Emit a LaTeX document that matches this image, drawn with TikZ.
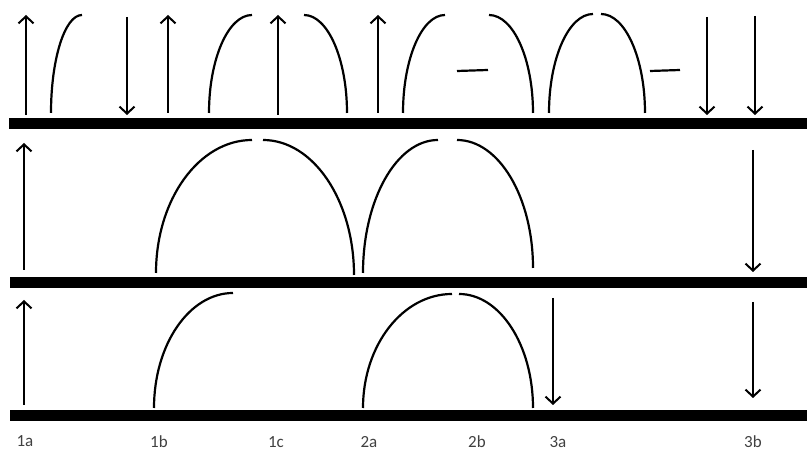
\documentclass[tikz,border=0pt]{standalone}
\usepackage{fontspec}
\setmainfont{Carlito}
\usetikzlibrary{arrows.meta}
\tikzset{ARROW/.style={line width=2.2pt, -{Straight Barb[length=7pt,width=15pt,line width=2pt]}}}
\tikzset{ARC/.style={line width=2.2pt}}
\tikzset{BAR/.style={line width=11pt}}
\tikzset{LABEL/.style={anchor=base, inner sep=0pt, text=black!75, font=\fontsize{17}{19}\selectfont}}

\begin{document}
\begin{tikzpicture}[x=1pt, y=1pt]
    \useasboundingbox (0,0) rectangle (807,452);

    % the three bars
    \draw[BAR] (9,328) -- (807,328);
    \draw[BAR] (10,169) -- (807,169);
    \draw[BAR] (10,36.5) -- (807,36.5);

    % top row
    \draw[ARROW] (26,337) -- (26,437);
    \draw[ARC] (51,339) arc[start angle=180, end angle=90, x radius=31, y radius=98];
    \draw[ARROW] (127,435) -- (127,337);
    \draw[ARROW] (168,339) -- (168,437);
    \draw[ARC] (209,339) arc[start angle=180, end angle=90, x radius=43, y radius=98];
    \draw[ARROW] (278,337) -- (278,437);
    \draw[ARC] (304,437) arc[start angle=90, end angle=0, x radius=43, y radius=98];
    \draw[ARROW] (378,339) -- (378,437);
    \draw[ARC] (403,339) arc[start angle=180, end angle=90, x radius=42, y radius=98];
    \draw[ARC] (457,381) -- (488,382);
    \draw[ARC] (489,437) arc[start angle=90, end angle=0, x radius=44, y radius=98];
    \draw[ARC] (549,339) arc[start angle=180, end angle=90, x radius=44, y radius=99];
    \draw[ARC] (601,438) arc[start angle=90, end angle=0, x radius=44, y radius=99];
    \draw[ARC] (650,381) -- (680,382);
    \draw[ARROW] (707,435) -- (707,337);
    \draw[ARROW] (755,436) -- (755,337);

    % middle row
    \draw[ARROW] (24,182) -- (24,309);
    \draw[ARC] (156,179) arc[start angle=180, end angle=90, x radius=96, y radius=133];
    \draw[ARC] (263,312) arc[start angle=90, end angle=0, x radius=91, y radius=135];
    \draw[ARC] (363,179) arc[start angle=180, end angle=90, x radius=75, y radius=133];
    \draw[ARC] (457,312) arc[start angle=90, end angle=0, x radius=76, y radius=128];
    \draw[ARROW] (753,302) -- (753,180);

    % bottom row
    \draw[ARROW] (24,47) -- (24,152);
    \draw[ARC] (154,44) arc[start angle=180, end angle=90, x radius=79, y radius=115];
    \draw[ARC] (363,44) arc[start angle=180, end angle=90, x radius=89, y radius=114];
    \draw[ARC] (459,158) arc[start angle=90, end angle=0, x radius=74, y radius=114];
    \draw[ARROW] (553,154) -- (553,47);
    \draw[ARROW] (753,150) -- (753,54);

    % labels
    \node[LABEL] (l_1a) at (25,5) {1a};
    \node[LABEL] (l_1b) at (159,4) {1b};
    \node[LABEL] (l_1c) at (276,4.5) {1c};
    \node[LABEL] (l_2a) at (369,4.5) {2a};
    \node[LABEL] (l_2b) at (477,4) {2b};
    \node[LABEL] (l_3a) at (558,4) {3a};
    \node[LABEL] (l_3b) at (753,4.5) {3b};
\end{tikzpicture}
\end{document}
